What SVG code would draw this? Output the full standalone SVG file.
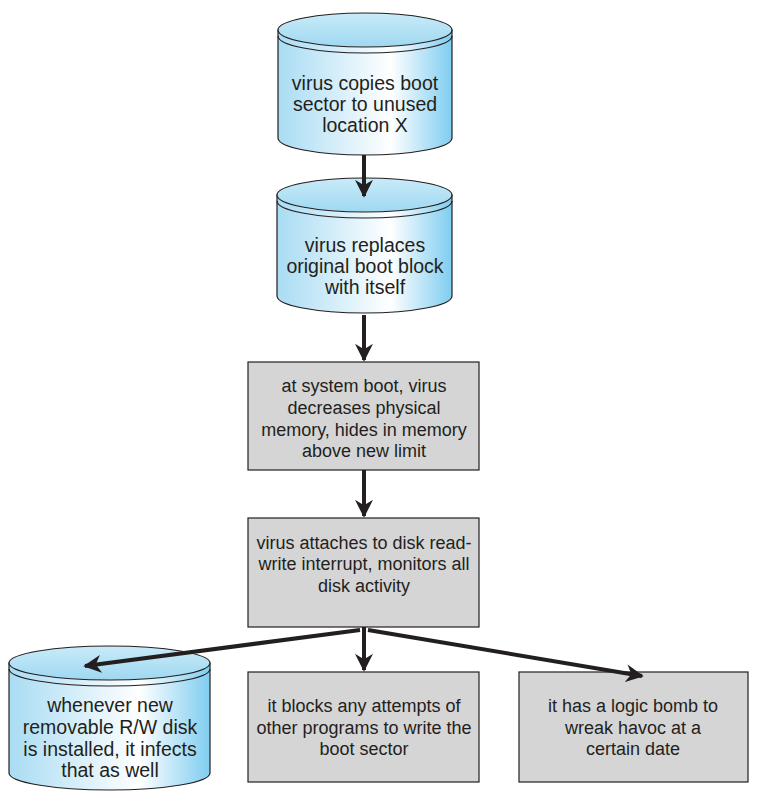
<svg xmlns="http://www.w3.org/2000/svg" width="763" height="801" viewBox="0 0 763 801">
<defs>
<linearGradient id="cyl" x1="0" x2="1" y1="0" y2="0">
<stop offset="0" stop-color="#a9dcf3"/><stop offset="0.65" stop-color="#ffffff"/><stop offset="1" stop-color="#7fcdf0"/>
</linearGradient>
<linearGradient id="top" x1="0" x2="0" y1="0" y2="1">
<stop offset="0" stop-color="#c9ebf8"/><stop offset="1" stop-color="#9fd8f1"/>
</linearGradient>
<marker id="ah" viewBox="0 0 10 10" refX="9" refY="5" markerWidth="4.5" markerHeight="4.5" orient="auto" markerUnits="strokeWidth">
<path d="M0,0 L10,5 L0,10 L3,5 z" fill="#231f20"/>
</marker>
</defs>
<style>
.body{fill:url(#cyl);stroke:#231f20;stroke-width:1.2}
.top{fill:url(#top);stroke:#231f20;stroke-width:1.2}
.rim{fill:none;stroke:#231f20;stroke-width:1.2}
.box{fill:#d5d5d5;stroke:#231f20;stroke-width:1.2}
text{font-family:"Liberation Sans",Arial,sans-serif;font-size:18px;fill:#231f20;text-anchor:middle}
.cy text{font-size:19.5px}
.c{fill:none;stroke:#231f20;stroke-width:4;marker-end:url(#ah)}
</style>
<rect width="763" height="801" fill="#fff"/>
<g id="n1" class="cy">
<path class="body" d="M278,30 V138 A87,17 0 0 0 452,138 V30 Z"/>
<ellipse class="top" cx="365" cy="30" rx="87" ry="17"/>
<path class="rim" d="M278,36 A87,17 0 0 0 452,36"/>
<text x="365" y="90">virus copies boot</text><text x="365" y="111">sector to unused</text><text x="365" y="132">location X</text>
</g>
<g id="n2" class="cy">
<path class="body" d="M277,195 V296 A87.5,17 0 0 0 452,296 V195 Z"/>
<ellipse class="top" cx="364.5" cy="195" rx="87.5" ry="17"/>
<path class="rim" d="M277,201 A87.5,17 0 0 0 452,201"/>
<text x="365" y="252">virus replaces</text><text x="365" y="273">original boot block</text><text x="365" y="294">with itself</text>
</g>
<g id="n3">
<rect class="box" x="248" y="362" width="231" height="108"/>
<text x="364" y="392">at system boot, virus</text><text x="364" y="414">decreases physical</text><text x="364" y="436">memory, hides in memory</text><text x="364" y="457">above new limit</text>
</g>
<g id="n4">
<rect class="box" x="248" y="518" width="231" height="109"/>
<text x="364" y="549">virus attaches to disk read-</text><text x="364" y="570">write interrupt, monitors all</text><text x="364" y="592">disk activity</text>
</g>
<g id="n5" class="cy">
<path class="body" d="M9,663 V773 A100.5,17 0 0 0 210,773 V663 Z"/>
<ellipse class="top" cx="109.5" cy="663" rx="100.5" ry="17"/>
<path class="rim" d="M9,669 A100.5,17 0 0 0 210,669"/>
<text x="110" y="712">whenever new</text><text x="110" y="734">removable R/W disk</text><text x="110" y="756">is installed, it infects</text><text x="110" y="777">that as well</text>
</g>
<g id="n6">
<rect class="box" x="248" y="672" width="231" height="110"/>
<text x="364" y="712">it blocks any attempts of</text><text x="364" y="734">other programs to write the</text><text x="364" y="755">boot sector</text>
</g>
<g id="n7">
<rect class="box" x="519" y="672" width="229" height="110"/>
<text x="633" y="712">it has a logic bomb to</text><text x="633" y="734">wreak havoc at a</text><text x="633" y="755">certain date</text>
</g>
<g id="connectors">
<line class="c" x1="364" y1="155" x2="364" y2="196"/>
<line class="c" x1="364" y1="315" x2="364" y2="360"/>
<line class="c" x1="364" y1="470" x2="364" y2="516"/>
<line class="c" x1="364" y1="627" x2="364" y2="670"/>
<line class="c" x1="360" y1="630" x2="85" y2="666"/>
<line class="c" x1="368" y1="630" x2="642" y2="676"/>
</g>
</svg>
